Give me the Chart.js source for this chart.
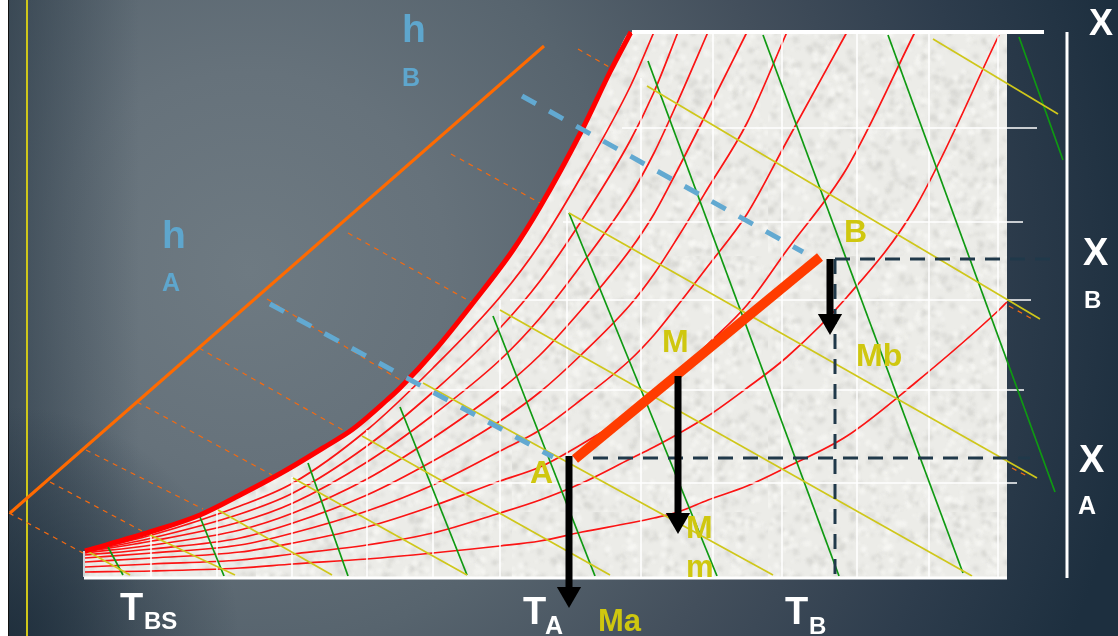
<!DOCTYPE html>
<html>
<head>
<meta charset="utf-8">
<script src="https://cdn.jsdelivr.net/npm/chart.js@4"></script>
<style>
  html, body { margin: 0; padding: 0; background: #fff; overflow: hidden; }
  #bg {
    position: absolute; left: 8px; top: 0; width: 1110px; height: 636px;
    border-left: 1px solid #111;
    background:
      radial-gradient(circle 230px at 0 636px, rgba(28,44,58,.85) 0, rgba(28,44,58,0) 100%),
      linear-gradient(90deg, rgba(28,44,58,.5) 0, rgba(28,44,58,0) 130px),
      radial-gradient(circle 900px at 240px 270px, #6e7a82 0, #66727b 22%, #57646e 42%, #434f5c 62%, #2e3d4d 82%, #1d2f3f 100%);
  }
  canvas { position: absolute; left: 0; top: 0; }
</style>
</head>
<body>
<div id="bg"></div>
<canvas id="chart" width="1118" height="636"></canvas>
<script>
// saturation curve
const satX = [85, 150, 200, 240, 283, 323, 353, 387, 400, 436, 473, 513, 540, 582, 610, 631];
const satY = [551, 532, 515, 495, 472, 448, 429, 400, 388, 349, 303, 250, 207, 130, 72, 32];

// relative humidity curves, all share curveX
const curveX = [85, 152, 240, 293, 367, 433, 500, 540, 582, 630, 654, 678, 708, 747, 787, 847, 915, 999, 1007];
const rh90 = [551, 535, 506, 483, 430, 368, 297, 244, 175, 87, 32];
const rh80 = [551.5, 538, 514, 493, 446, 392, 328, 281, 220, 141, 92, 32];
const rh70 = [552, 541, 522, 503, 462, 415, 360, 318, 264, 196, 153, 101, 32];
const rh60 = [553, 545, 530, 513, 479, 438, 390, 355, 309, 250, 214, 169, 110, 32];
const rh50 = [555, 549, 538, 523, 495, 461, 421, 392, 354, 305, 274, 237, 188, 123, 32];
const rh40 = [558, 553, 545, 533, 511, 485, 451, 430, 399, 360, 335, 305, 266, 214, 141, 32];
const rh30 = [562, 558, 552, 543, 527, 506, 481, 467, 444, 414, 396, 373, 344, 305, 250, 168, 32];
const rh20 = [567, 564, 560, 554, 545, 533, 513, 500, 483, 459, 447, 434, 416, 388, 357, 297, 208, 35];
const rh10 = [572, 571, 568, 564, 559, 553, 546, 541, 532, 523, 518, 512, 500, 486, 467, 436, 383, 310, 302];

// white grid
const gridVertical = [[84, 551], [151, 533], [217, 510], [292, 477], [367, 430], [433, 390], [500, 300], [567, 210], [641, 78], [713, 32], [782, 32], [857, 32], [929, 32], [998, 32]];
const gridHorizontal = [[622, 128, 1037], [563, 222, 1023], [510, 300, 1031], [400, 390, 1024], [293, 483, 1017]];

// segments: x1, y1, x2, y2
const greenLines = [
  [108, 547, 123, 575], [200, 517, 224, 576], [308, 463, 348, 576], [400, 407, 467, 575],
  [493, 316, 595, 576], [569, 213, 717, 576], [648, 61, 839, 576], [763, 35, 963, 573],
  [888, 35, 1055, 492], [1019, 37, 1063, 160]
];
const yellowLines = [
  [87, 551, 130, 575], [148, 534, 235, 575], [218, 510, 332, 575], [293, 478, 467, 575],
  [362, 436, 610, 575], [423, 383, 773, 575], [500, 310, 972, 576], [569, 213, 1037, 478],
  [647, 86, 1040, 319], [933, 39, 1058, 114]
];
const enthalpyTicks = [
  [9, 513, 83, 553], [50, 482, 142, 531], [86, 450, 203, 509], [137, 402, 272, 475],
  [199, 348, 343, 430], [267, 299, 405, 383], [348, 233, 473, 303], [451, 154, 540, 203],
  [578, 49, 609, 67], [1009, 306, 1034, 320], [1012, 468, 1027, 476]
];
const enthalpyAxis = [10, 513, 544, 46];

const enthalpyA = [270, 304, 553, 457];
const enthalpyB = [522, 96, 803, 252];
const mixLine = [575, 459, 820, 257];
const guideA = [593, 458, 1030, 458];
const guideB = [835, 259, 1052, 259];
const guideTB = [835, 259, 835, 576];
const yellowRule = [27, 0, 27, 636];

// arrows: x, top of shaft, centre of head
const arrowLines = [[569, 456, 594], [678, 376, 520], [830, 259, 321]];

const labelTexts = [
  ['X', 1089, 35, 36, '#fff'], ['X', 1083, 265, 38, '#fff'], ['B', 1084, 308, 24, '#fff'],
  ['X', 1079, 472, 38, '#fff'], ['A', 1078, 514, 25, '#fff'],
  ['T', 120, 620, 38, '#fff'], ['BS', 144, 629, 24, '#fff'],
  ['T', 523, 624, 38, '#fff'], ['A', 545, 634, 25, '#fff'],
  ['T', 785, 624, 38, '#fff'], ['B', 809, 634, 24, '#fff'],
  ['Ma', 598, 631, 31, '#cfc70f'], ['A', 530, 483, 32, '#cfc70f'], ['M', 686, 538, 32, '#cfc70f'],
  ['m', 686, 577, 31, '#cfc70f'], ['M', 662, 352, 32, '#cfc70f'], ['B', 844, 242, 32, '#cfc70f'],
  ['Mb', 856, 366, 32, '#cfc70f'],
  ['h', 162, 248, 39, '#5ea6cd'], ['A', 162, 291, 25, '#5ea6cd'],
  ['h', 402, 42, 39, '#5ea6cd'], ['B', 402, 86, 25, '#5ea6cd']
];

// mottled paper look of the chart body
function paperPattern() {
  const c = document.createElement('canvas');
  c.width = c.height = 256;
  const g = c.getContext('2d');
  g.fillStyle = '#ecece8';
  g.fillRect(0, 0, 256, 256);
  g.filter = 'blur(1.5px)';
  let s = 12345;
  const next = () => { s = (s * 1103515245 + 12345) % 2147483648; return s / 2147483648; };
  for (let i = 0; i < 1500; i++) {
    const d = next() > 0.5;
    g.fillStyle = d ? 'rgba(205,205,200,.45)' : 'rgba(250,250,246,.6)';
    g.beginPath();
    g.arc(next() * 256, next() * 256, 1 + next() * 2.5, 0, Math.PI * 2);
    g.fill();
  }
  return document.getElementById('chart').getContext('2d').createPattern(c, 'repeat');
}

const datasets = [];
function addLine(points, style) {
  datasets.push(Object.assign({
    data: points,
    showLine: true,
    borderWidth: 1.7,
    pointRadius: 0,
    fill: false,
    borderCapStyle: 'butt',
    order: -datasets.length
  }, style));
}
function addSegment(s, style) {
  addLine([{ x: s[0], y: s[1] }, { x: s[2], y: s[3] }], style);
}
const zip = (xs, ys) => ys.map((y, i) => ({ x: xs[i], y: y }));

addSegment(yellowRule, { borderColor: '#cfc71a', borderWidth: 2 });

// body of the chart
addLine(zip(satX, satY).concat([{ x: 1007, y: 32 }]), {
  borderWidth: 0,
  cubicInterpolationMode: 'monotone',
  fill: { value: 578 },
  backgroundColor: paperPattern()
});

[rh10, rh20, rh30, rh40, rh50, rh60, rh70, rh80, rh90].forEach(function (rh) {
  addLine(zip(curveX, rh), { borderColor: '#fb1414', cubicInterpolationMode: 'monotone' });
});

gridVertical.forEach(function (v) { addSegment([v[0], v[1], v[0], 577], { borderColor: '#ffffff', borderWidth: 1.5 }); });
gridHorizontal.forEach(function (h) { addSegment([h[0], h[1], h[2], h[1]], { borderColor: '#ffffff', borderWidth: 1.5 }); });

greenLines.forEach(function (s) { addSegment(s, { borderColor: '#0f9a12' }); });
yellowLines.forEach(function (s) { addSegment(s, { borderColor: '#cfc71a' }); });
enthalpyTicks.forEach(function (s) { addSegment(s, { borderColor: '#f56a10', borderWidth: 1.2, borderDash: [5, 5] }); });
addSegment(enthalpyAxis, { borderColor: '#ff6a00', borderWidth: 3 });

addLine(zip(satX, satY), { borderColor: '#ff0000', borderWidth: 5, cubicInterpolationMode: 'monotone' });

addSegment([632, 32, 1044, 32], { borderColor: '#ffffff', borderWidth: 4 });
addSegment([84, 578, 1007, 578], { borderColor: '#ffffff', borderWidth: 3 });
addSegment([1067, 32, 1067, 578], { borderColor: '#ffffff', borderWidth: 3 });

addSegment(enthalpyA, { borderColor: '#62a9d1', borderWidth: 5, borderDash: [16, 15] });
addSegment(enthalpyB, { borderColor: '#62a9d1', borderWidth: 5, borderDash: [16, 15] });
addSegment(guideA, { borderColor: '#20394a', borderWidth: 3, borderDash: [15, 10] });
addSegment(guideB, { borderColor: '#20394a', borderWidth: 3, borderDash: [15, 10] });
addSegment(guideTB, { borderColor: '#20394a', borderWidth: 3, borderDash: [15, 10] });
addSegment(mixLine, { borderColor: '#ff3c00', borderWidth: 9.5 });

arrowLines.forEach(function (a) {
  addSegment([a[0], a[1], a[0], a[2]], { borderColor: '#000000', borderWidth: 7 });
  addLine([{ x: a[0], y: a[2] }], {
    showLine: false, pointRadius: 14, pointStyle: 'triangle', rotation: 180,
    pointBackgroundColor: '#000000', pointBorderWidth: 0
  });
});

// real text on top, placed through the scales
const labelPlugin = {
  id: 'labels',
  afterDatasetsDraw(chart) {
    const ctx = chart.ctx;
    ctx.save();
    ctx.textAlign = 'left';
    ctx.textBaseline = 'alphabetic';
    labelTexts.forEach(function (l) {
      ctx.font = 'bold ' + l[3] + 'px "Liberation Sans"';
      ctx.fillStyle = l[4];
      ctx.fillText(l[0], chart.scales.x.getPixelForValue(l[1]), chart.scales.y.getPixelForValue(l[2]));
    });
    ctx.restore();
  }
};

new Chart(document.getElementById('chart'), {
  type: 'scatter',
  data: { datasets: datasets },
  options: {
    responsive: false,
    animation: false,
    layout: { padding: 0, autoPadding: false },
    plugins: { legend: { display: false }, tooltip: { enabled: false } },
    scales: {
      x: { type: 'linear', display: false, min: 0, max: 1118 },
      y: { type: 'linear', display: false, min: 0, max: 636, reverse: true }
    },
    elements: { line: { tension: 0 } }
  },
  plugins: [labelPlugin]
});
</script>
</body>
</html>
